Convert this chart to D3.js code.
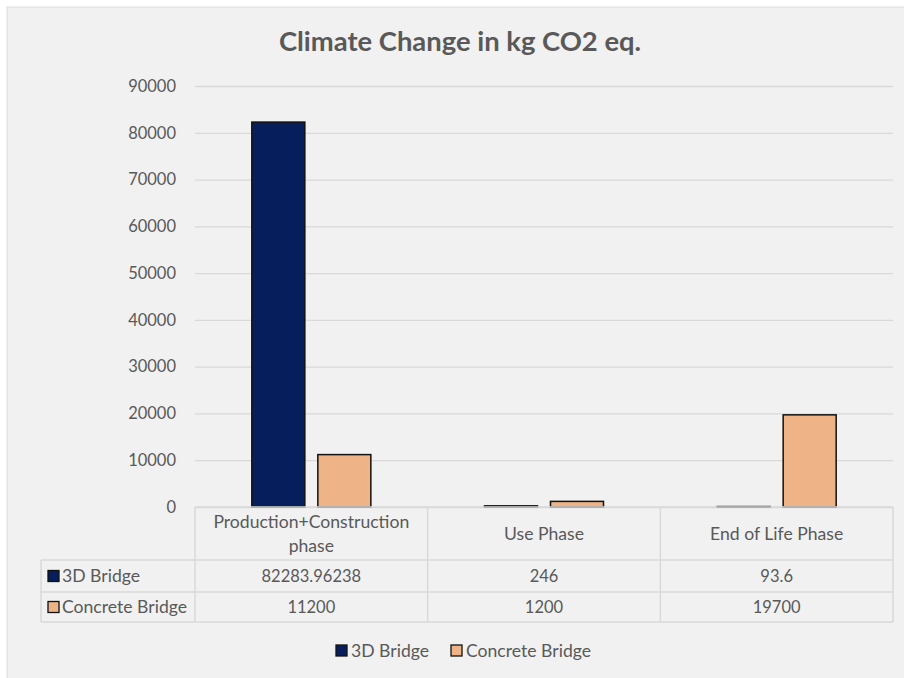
<!DOCTYPE html>
<html>
<head>
<meta charset="utf-8">
<script src="https://cdn.jsdelivr.net/npm/d3@7"></script>
<style>
  html, body { margin: 0; padding: 0; background: #ffffff; }
  svg { display: block; }
  text { font-family: Lato, "Open Sans", sans-serif; fill: #595959; }
</style>
</head>
<body>
<svg id="chart" width="904" height="678"></svg>
<script>
// Climate change impact per life-cycle phase (kg CO2 eq.)
const categories = ["Production+Construction phase", "Use Phase", "End of Life Phase"];
const categoryLines = [["Production+Construction", "phase"], ["Use Phase"], ["End of Life Phase"]];
const seriesNames = ["3D Bridge", "Concrete Bridge"];
const bridge3D = [82283.96238, 246, 93.6];
const concreteBridge = [11200, 1200, 19700];
const valueLabels = [["82283.96238", "246", "93.6"], ["11200", "1200", "19700"]];
const yTicks = [0, 10000, 20000, 30000, 40000, 50000, 60000, 70000, 80000, 90000];
const colors = ["#061f5c", "#eeb488"];

const series = [bridge3D, concreteBridge];
const svg = d3.select("#chart");

const numFont = "16.5px";
const wordFont = "17.6px";

// panel background
svg.append("rect").attr("x", 7).attr("y", 7).attr("width", 904).attr("height", 678)
  .attr("fill", "#f1f1f1").attr("stroke", "#dcdcdc").attr("stroke-width", 1);

const plot = { left: 195, right: 893, top: 86, bottom: 507 };

svg.append("text")
  .attr("x", 460).attr("y", 51)
  .attr("text-anchor", "middle")
  .style("font-size", "27.4px").style("font-weight", "700")
  .text("Climate Change in kg CO2 eq.");

const y = d3.scaleLinear().domain([0, 90000]).range([plot.bottom, plot.top]);
const x = d3.scaleBand().domain(categories).range([plot.left, plot.right]);
const inner = d3.scaleBand().domain(seriesNames).range([0, x.bandwidth()]).paddingInner(0.197).paddingOuter(0.861);

// gridlines and y axis labels
const yAxis = d3.axisLeft(y).tickValues(yTicks).tickSize(-(plot.right - plot.left)).tickPadding(19)
  .tickFormat(d3.format("d"));
const gy = svg.append("g").attr("transform", `translate(${plot.left},0)`).call(yAxis);
gy.select(".domain").remove();
gy.selectAll(".tick line").attr("stroke", "#d9d9d9").attr("stroke-width", 1.3);
gy.selectAll(".tick text").style("font-size", numFont).attr("fill", "#595959");

// bars
seriesNames.forEach((name, si) => {
  svg.append("g").selectAll("rect")
    .data(series[si])
    .join("rect")
    .attr("x", (d, i) => x(categories[i]) + inner(name))
    .attr("width", inner.bandwidth())
    .attr("y", d => y(d))
    .attr("height", d => y(0) - y(d))
    .attr("fill", colors[si])
    .attr("stroke", "#111")
    .attr("stroke-width", 1.5);
});

// data table
const table = { left: 41, headerBottom: 560, rowBottoms: [592, 622] };
const tg = svg.append("g");
const lineColor = "#d9d9d9";
// horizontal lines
tg.append("line").attr("x1", plot.left).attr("x2", plot.right).attr("y1", plot.bottom).attr("y2", plot.bottom)
  .attr("stroke", lineColor).attr("stroke-width", 1.5);
[table.headerBottom, ...table.rowBottoms].forEach(yy => {
  tg.append("line").attr("x1", table.left).attr("x2", plot.right).attr("y1", yy).attr("y2", yy)
    .attr("stroke", lineColor).attr("stroke-width", 1.5);
});
// vertical lines
tg.append("line").attr("x1", table.left).attr("x2", table.left).attr("y1", table.headerBottom).attr("y2", table.rowBottoms[1])
  .attr("stroke", lineColor).attr("stroke-width", 1.5);
[...categories.map(c => x(c)), plot.right].forEach(xx => {
  tg.append("line").attr("x1", xx).attr("x2", xx).attr("y1", plot.bottom).attr("y2", table.rowBottoms[1])
    .attr("stroke", lineColor).attr("stroke-width", 1.5);
});
// header text
categories.forEach((c, i) => {
  const lines = categoryLines[i];
  const cx = x(c) + x.bandwidth() / 2;
  const mid = (plot.bottom + table.headerBottom) / 2;
  lines.forEach((ln, li) => {
    tg.append("text").attr("x", cx)
      .attr("y", mid + 6 + (li - (lines.length - 1) / 2) * 24)
      .attr("text-anchor", "middle").style("font-size", wordFont).text(ln);
  });
});
// rows
const rowTops = [table.headerBottom, table.rowBottoms[0]];
seriesNames.forEach((name, si) => {
  const top = rowTops[si], bottom = table.rowBottoms[si];
  const mid = (top + bottom) / 2;
  tg.append("rect").attr("x", 48).attr("y", mid - 5.5).attr("width", 11).attr("height", 11)
    .attr("fill", colors[si]).attr("stroke", "#111").attr("stroke-width", 1.3);
  tg.append("text").attr("x", 62).attr("y", mid + 6).style("font-size", wordFont).text(name);
  categories.forEach((c, i) => {
    tg.append("text").attr("x", x(c) + x.bandwidth() / 2).attr("y", mid + 6)
      .attr("text-anchor", "middle").style("font-size", numFont).text(valueLabels[si][i]);
  });
});

// legend
const legendX = [336, 451];
seriesNames.forEach((name, si) => {
  const g = svg.append("g").attr("transform", `translate(${legendX[si]},645)`);
  g.append("rect").attr("width", 11).attr("height", 11)
    .attr("fill", colors[si]).attr("stroke", "#111").attr("stroke-width", 1.3);
  g.append("text").attr("x", 15).attr("y", 11.5).style("font-size", wordFont).text(name);
});
</script>
</body>
</html>
